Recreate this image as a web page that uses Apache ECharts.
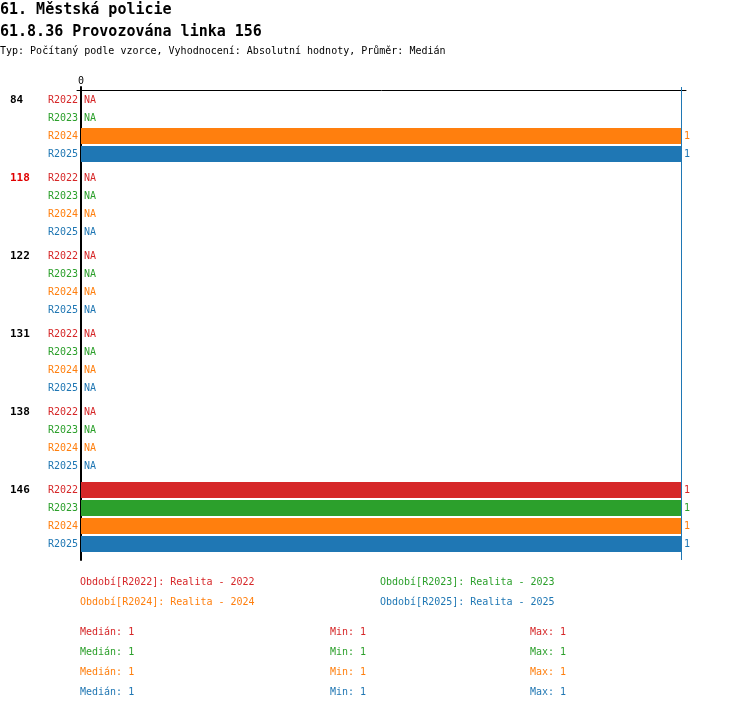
<!DOCTYPE html>
<html>
<head>
<meta charset="utf-8">
<script src="https://cdn.jsdelivr.net/npm/echarts@6/dist/echarts.min.js"></script>
<style>html,body{margin:0;padding:0;background:#fff}#c{width:750px;height:710px}</style>
</head>
<body>
<div id="c"></div>
<script>
var titleMain = '61. Městská policie';
var titleSub = '61.8.36 Provozována linka 156';
var titleInfo = 'Typ: Počítaný podle vzorce, Vyhodnocení: Absolutní hodnoty, Průměr: Medián';
var groups = ['84', '118', '122', '131', '138', '146'];
var highlightedGroups = ['118'];
var periods = ['R2022', 'R2023', 'R2024', 'R2025'];
var periodNames = ['Realita - 2022', 'Realita - 2023', 'Realita - 2024', 'Realita - 2025'];
var colors = ['#d62728', '#2ca02c', '#ff7f0e', '#1f77b4'];
var values2022 = [null, null, null, null, null, 1];
var values2023 = [null, null, null, null, null, 1];
var values2024 = [1, null, null, null, null, 1];
var values2025 = [1, null, null, null, null, 1];
var valuesByPeriod = [values2022, values2023, values2024, values2025];
var axisTicks = [0, 1];

var FONT = '"DejaVu Sans Mono", "Liberation Mono", monospace';

function stats(arr) {
  var v = arr.filter(function (x) { return x !== null; }).sort(function (a, b) { return a - b; });
  if (!v.length) return { med: 'NA', min: 'NA', max: 'NA' };
  var m = v.length % 2 ? v[(v.length - 1) / 2] : (v[v.length / 2 - 1] + v[v.length / 2]) / 2;
  return { med: m, min: v[0], max: v[v.length - 1] };
}

var gridBase = { outerBoundsMode: 'none', containLabel: false };
function mkGrid(o) { return Object.assign({}, gridBase, o); }

// grid 0: frame with value axis (vertical black axis, "0" label, max marker line)
var grids = [mkGrid({ left: 81, width: 600, top: 87, height: 473 })];
var xAxes = [{
  gridIndex: 0, type: 'value', position: 'top', min: axisTicks[0], max: axisTicks[1], interval: 1,
  axisLine: { show: false }, axisTick: { show: false }, splitLine: { show: false },
  axisLabel: { margin: 1, fontSize: 10, fontFamily: FONT, color: '#000',
    formatter: function (v) { return v === 0 ? '0' : ''; } }
}];
var yAxes = [{
  gridIndex: 0, type: 'value', position: 'left', min: 0, max: 1,
  axisLine: { show: true, onZero: false, lineStyle: { color: '#000', width: 2 } },
  axisTick: { show: false }, axisLabel: { show: false }, splitLine: { show: false }
}];
var series = [{
  type: 'line', xAxisIndex: 0, yAxisIndex: 0, data: [], silent: true, color: colors[3],
  markLine: { symbol: 'none', silent: true, label: { show: false },
    lineStyle: { color: colors[3], type: 'solid', width: 1, opacity: 1 }, data: [{ xAxis: axisTicks[1] }] }
}];

// grid 1: top horizontal rule
grids.push(mkGrid({ left: 77, width: 609, top: 90, height: 470 }));
xAxes.push({ gridIndex: 1, type: 'value', position: 'top', min: 0, max: 1,
  axisLine: { show: true, onZero: false, lineStyle: { color: '#000', width: 1 } },
  axisTick: { show: false }, axisLabel: { show: false }, splitLine: { show: false } });
yAxes.push({ gridIndex: 1, type: 'value', min: 0, max: 1, show: false });

groups.forEach(function (g, gi) {
  var gridIdx = grids.length;
  grids.push(mkGrid({ left: 81, width: 600, top: 91 + gi * 78, height: 72 }));
  xAxes.push({ gridIndex: gridIdx, type: 'value', min: axisTicks[0], max: axisTicks[1], show: false });
  yAxes.push({
    gridIndex: gridIdx, type: 'category', position: 'left', inverse: true, data: periods,
    axisLine: { show: false }, axisTick: { show: false },
    axisLabel: { margin: 3, fontSize: 10, fontFamily: FONT,
      color: function (v, i) { return colors[i]; } }
  });
  yAxes.push({
    gridIndex: gridIdx, type: 'category', position: 'left', offset: 0, inverse: true, data: [g, '', '', ''],
    axisLine: { show: false }, axisTick: { show: false },
    axisLabel: { margin: 71, align: 'left', fontSize: 11, fontWeight: 'bold', fontFamily: FONT,
      color: highlightedGroups.indexOf(g) >= 0 ? '#e00000' : '#000' }
  });
  series.push({
    type: 'bar', xAxisIndex: xAxes.length - 1, yAxisIndex: yAxes.length - 2, barWidth: 16,
    data: periods.map(function (p, pi) {
      var v = valuesByPeriod[pi][gi];
      return {
        value: v === null ? 0 : v,
        itemStyle: { color: colors[pi] },
        label: { show: true, position: 'right', distance: 3, fontSize: 10, fontFamily: FONT,
          color: colors[pi], formatter: v === null ? 'NA' : String(v) }
      };
    })
  });
});

var graphics = [
  { type: 'text', style: { x: 0, y: 10, text: titleMain, font: 'bold 15px ' + FONT, fill: '#000', verticalAlign: 'middle' } },
  { type: 'text', style: { x: 0, y: 32, text: titleSub, font: 'bold 15px ' + FONT, fill: '#000', verticalAlign: 'middle' } },
  { type: 'text', style: { x: 0, y: 51, text: titleInfo, font: '10px ' + FONT, fill: '#000', verticalAlign: 'middle' } }
];
periods.forEach(function (p, pi) {
  graphics.push({ type: 'text', style: {
    x: 80 + (pi % 2) * 300, y: 582 + Math.floor(pi / 2) * 20,
    text: 'Období[' + p + ']: ' + periodNames[pi], font: '10px ' + FONT, fill: colors[pi], verticalAlign: 'middle' } });
  var s = stats(valuesByPeriod[pi]);
  [['Medián: ', s.med, 80], ['Min: ', s.min, 330], ['Max: ', s.max, 530]].forEach(function (it) {
    graphics.push({ type: 'text', style: {
      x: it[2], y: 632 + pi * 20, text: it[0] + it[1], font: '10px ' + FONT, fill: colors[pi], verticalAlign: 'middle' } });
  });
});

var chart = echarts.init(document.getElementById('c'), null, { renderer: 'canvas' });
chart.setOption({
  animation: false,
  backgroundColor: '#fff',
  grid: grids, xAxis: xAxes, yAxis: yAxes, series: series, graphic: graphics
});
</script>
</body>
</html>
